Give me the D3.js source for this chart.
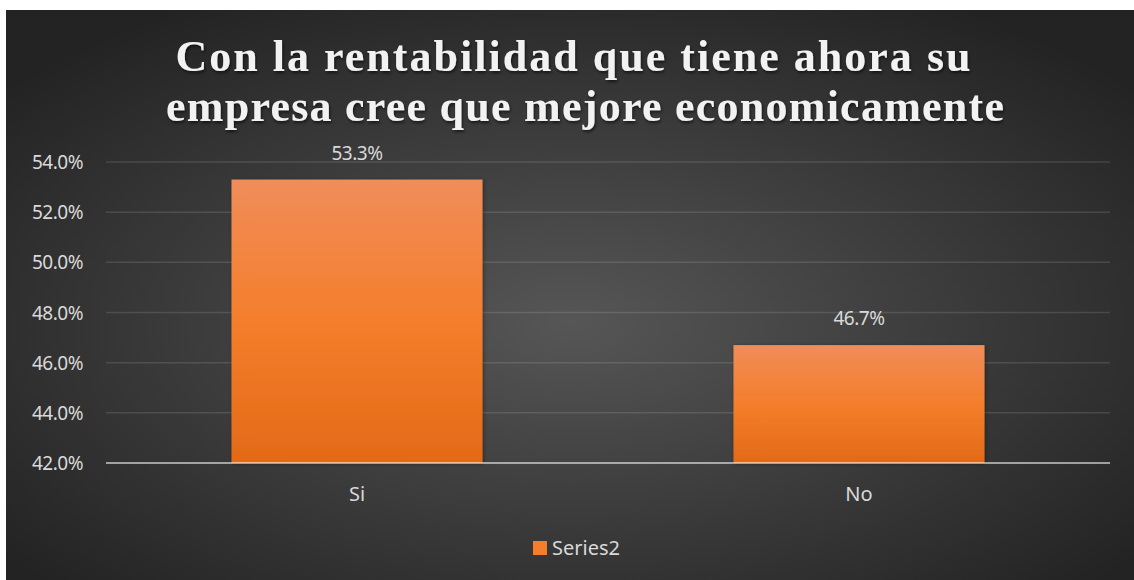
<!DOCTYPE html>
<html lang="es">
<head>
  <meta charset="UTF-8">
  <title>Con la rentabilidad que tiene ahora su empresa</title>
  <script src="https://d3js.org/d3.v7.min.js"></script>
  <style>
    body {
      margin: 0;
      background: #fff;
      font-family: "Noto Sans", "Open Sans", sans-serif;
    }
  </style>
</head>
<body>
<div id="chart"></div>

<script>
  var categories = ["Si", "No"];
  var values = [0.533, 0.467];
  var yTicks = [0.42, 0.44, 0.46, 0.48, 0.50, 0.52, 0.54];
  var seriesName = "Series2";
  var titleLines = [
    "Con la rentabilidad que tiene ahora su",
    "empresa cree que mejore economicamente"
  ];

  var width = 1134, height = 580;
  var frame = {left: 6, top: 10};
  var plot = {left: 106, right: 1110, top: 162, bottom: 463};

  var svg = d3.select("#chart")
    .append("svg")
    .attr("width", width)
    .attr("height", height);

  var defs = svg.append("defs");

  var bg = defs.append("radialGradient")
    .attr("id", "bg")
    .attr("cx", "50%").attr("cy", "55%").attr("r", "65%");
  bg.append("stop").attr("offset", "0%").attr("stop-color", "#565656");
  bg.append("stop").attr("offset", "100%").attr("stop-color", "#232323");

  var barGrad = defs.append("linearGradient")
    .attr("id", "barGrad")
    .attr("x1", 0).attr("y1", 0).attr("x2", 0).attr("y2", 1);
  barGrad.append("stop").attr("offset", "0%").attr("stop-color", "#f08d5a");
  barGrad.append("stop").attr("offset", "50%").attr("stop-color", "#f47e2b");
  barGrad.append("stop").attr("offset", "100%").attr("stop-color", "#e36a17");

  var shadow = defs.append("filter").attr("id", "shadow")
    .attr("x", "-10%").attr("y", "-10%").attr("width", "120%").attr("height", "130%");
  shadow.append("feDropShadow")
    .attr("dx", 1).attr("dy", 2).attr("stdDeviation", 1.5)
    .attr("flood-color", "#000").attr("flood-opacity", 0.6);

  var barShadow = defs.append("filter").attr("id", "barShadow")
    .attr("x", "-10%").attr("y", "-10%").attr("width", "120%").attr("height", "120%");
  barShadow.append("feDropShadow")
    .attr("dx", 1).attr("dy", 1).attr("stdDeviation", 2)
    .attr("flood-color", "#000").attr("flood-opacity", 0.35);

  svg.append("rect")
    .attr("x", frame.left).attr("y", frame.top)
    .attr("width", width - frame.left).attr("height", height - frame.top)
    .attr("fill", "url(#bg)");

  // title
  var titleWidths = [795, 838];
  svg.append("g")
    .attr("filter", "url(#shadow)")
    .selectAll("text")
    .data(titleLines)
    .enter().append("text")
    .attr("x", (d, i) => i === 0 ? 573 : 585)
    .attr("y", (d, i) => 71 + i * 50)
    .attr("text-anchor", "middle")
    .attr("textLength", (d, i) => titleWidths[i])
    .attr("lengthAdjust", "spacing")
    .style("font-family", "'Liberation Serif', 'Times New Roman', serif")
    .style("font-weight", "bold")
    .style("font-size", "44px")
    .style("fill", "#f2f2f2")
    .text(d => d);

  var x = d3.scaleBand()
    .domain(categories)
    .range([plot.left, plot.right])
    .paddingInner(0.5)
    .paddingOuter(0.25);

  var y = d3.scaleLinear()
    .domain([0.42, 0.54])
    .range([plot.bottom, plot.top]);

  // gridlines
  svg.append("g")
    .selectAll("line")
    .data(yTicks.slice(1))
    .enter().append("line")
    .attr("x1", plot.left).attr("x2", plot.right)
    .attr("y1", d => y(d)).attr("y2", d => y(d))
    .attr("stroke", "rgba(255,255,255,0.12)")
    .attr("stroke-width", 1.5);

  // y axis labels
  var fmt = d3.format(".1%");
  svg.append("g")
    .selectAll("text")
    .data(yTicks)
    .enter().append("text")
    .attr("x", 83)
    .attr("y", d => y(d) + 7)
    .attr("text-anchor", "end")
    .style("font-size", "19px")
    .style("letter-spacing", "-0.5px")
    .style("fill", "#d9d9d9")
    .text(d => fmt(d));

  // bars
  svg.append("g")
    .selectAll("rect")
    .data(values)
    .enter().append("rect")
    .attr("x", (d, i) => x(categories[i]))
    .attr("y", d => y(d))
    .attr("width", x.bandwidth())
    .attr("height", d => y(0.42) - y(d))
    .attr("fill", "url(#barGrad)")
    .attr("filter", "url(#barShadow)");

  // axis line
  svg.append("line")
    .attr("x1", plot.left).attr("x2", plot.right)
    .attr("y1", plot.bottom).attr("y2", plot.bottom)
    .attr("stroke", "rgba(255,255,255,0.55)")
    .attr("stroke-width", 2);

  // data labels
  svg.append("g")
    .selectAll("text")
    .data(values)
    .enter().append("text")
    .attr("x", (d, i) => x(categories[i]) + x.bandwidth() / 2)
    .attr("y", d => y(d) - 20)
    .attr("text-anchor", "middle")
    .style("font-size", "19px")
    .style("letter-spacing", "-0.5px")
    .style("fill", "#d9d9d9")
    .text(d => fmt(d));

  // category labels
  svg.append("g")
    .selectAll("text")
    .data(categories)
    .enter().append("text")
    .attr("x", d => x(d) + x.bandwidth() / 2)
    .attr("y", 501)
    .attr("text-anchor", "middle")
    .style("font-size", "20px")
    .style("fill", "#d9d9d9")
    .text(d => d);

  // legend
  var legend = svg.append("g").attr("transform", "translate(533,541)");
  legend.append("rect")
    .attr("width", 14).attr("height", 14)
    .attr("fill", "#f47e2b");
  legend.append("text")
    .attr("x", 19).attr("y", 14)
    .style("font-size", "20px")
    .style("fill", "#d9d9d9")
    .text(seriesName);
</script>
</body>
</html>
